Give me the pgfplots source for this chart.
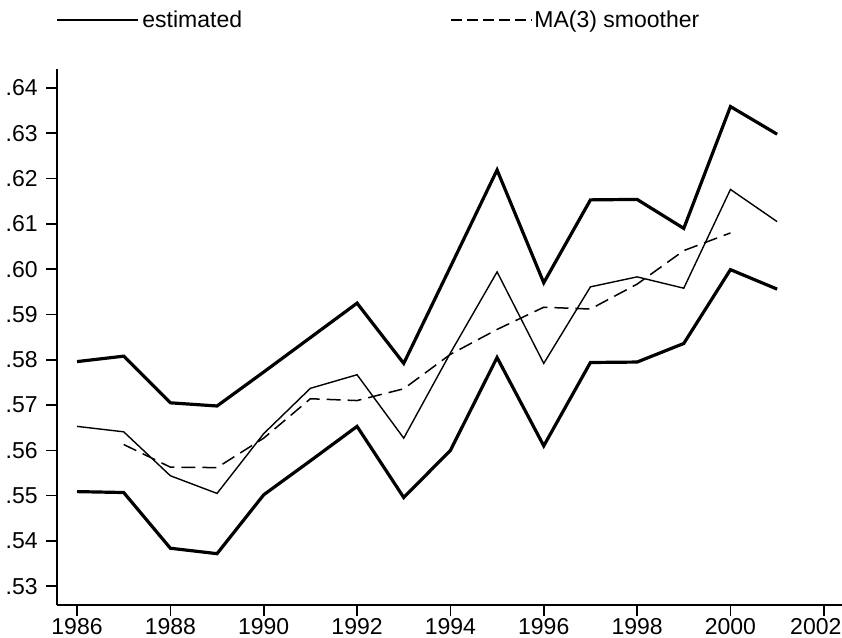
\documentclass[border=0pt]{standalone}
\usepackage{fontspec}
\setmainfont{Liberation Sans}
\usepackage{pgfplots}
\usepackage{pgfplotstable}
\pgfplotsset{compat=1.18}
\pgfplotstableread{
year upper est lower
1986 0.5796 0.5653 0.5509
1987 0.5808 0.5641 0.5507
1988 0.5705 0.5544 0.5384
1989 0.5698 0.5505 0.5372
1990 0.5773 0.5637 0.5502
1991 0.5849 0.5737 0.5577
1992 0.5925 0.5767 0.5653
1993 0.5792 0.5627 0.5496
1994 0.6005 0.5815 0.5600
1995 0.6219 0.5994 0.5805
1996 0.5970 0.5792 0.5610
1997 0.6153 0.5961 0.5794
1998 0.6154 0.5983 0.5795
1999 0.6090 0.5958 0.5836
2000 0.6359 0.6176 0.5999
2001 0.6298 0.6105 0.5956
}\bands
\pgfplotstableread{
year ma
1987 0.5613
1988 0.5563
1989 0.5562
1990 0.5627
1991 0.5714
1992 0.5710
1993 0.5736
1994 0.5812
1995 0.5867
1996 0.5916
1997 0.5912
1998 0.5967
1999 0.6041
2000 0.6080
}\ma
\begin{document}
\fontsize{11.5}{13}\selectfont
\begin{tikzpicture}
\path[use as bounding box] (-28.5pt,-16.5pt) rectangle (392.5pt,302.5pt);
\begin{axis}[
  at={(0pt,0pt)}, anchor=south west,
  width=392.5pt, height=268pt, scale only axis,
  xmin=1985.571, xmax=2002.39, ymin=0.52587, ymax=0.64419,
  axis x line*=bottom, axis y line*=left,
  axis line style={line width=1pt, -},
  every outer x axis line/.append style={-},
  every outer y axis line/.append style={-},
  xtick={1986,1988,1990,1992,1994,1996,1998,2000,2002},
  xticklabels={1986,1988,1990,1992,1994,1996,1998,2000,{\hspace*{-8pt}2002}},
  ytick={0.53,0.54,0.55,0.56,0.57,0.58,0.59,0.60,0.61,0.62,0.63,0.64},
  yticklabels={.53,.54,.55,.56,.57,.58,.59,.60,.61,.62,.63,.64},
  tick align=outside, major tick length=5.5pt,
  tick style={line width=0.8pt, black},
  /pgf/number format/assume math mode=true,
  tick label style={font=\fontsize{11.5}{13}\selectfont},
  xticklabel style={inner sep=1pt, yshift=0pt},
  yticklabel style={inner sep=1pt, xshift=-3pt},
  clip=false,
]
\addplot[black, line width=1.6pt, line join=miter] table[x=year, y=upper] {\bands};
\addplot[black, line width=1.6pt, line join=miter] table[x=year, y=lower] {\bands};
\addplot[black, line width=0.7pt] table[x=year, y=est] {\bands};
\addplot[black, line width=0.75pt, dash pattern=on 7pt off 3.5pt] table[x=year, y=ma] {\ma};
\end{axis}
\draw[line width=0.7pt] (0pt,292.5pt) -- (40.5pt,292.5pt);
\node[anchor=base west, inner sep=0pt] at (42.5pt,288.8pt) {estimated};
\draw[line width=0.75pt, dash pattern=on 5.5pt off 2.5pt] (197pt,292.5pt) -- (237.5pt,292.5pt);
\node[anchor=base west, inner sep=0pt] at (238.5pt,288.8pt) {MA(3) smoother};
\end{tikzpicture}
\end{document}
